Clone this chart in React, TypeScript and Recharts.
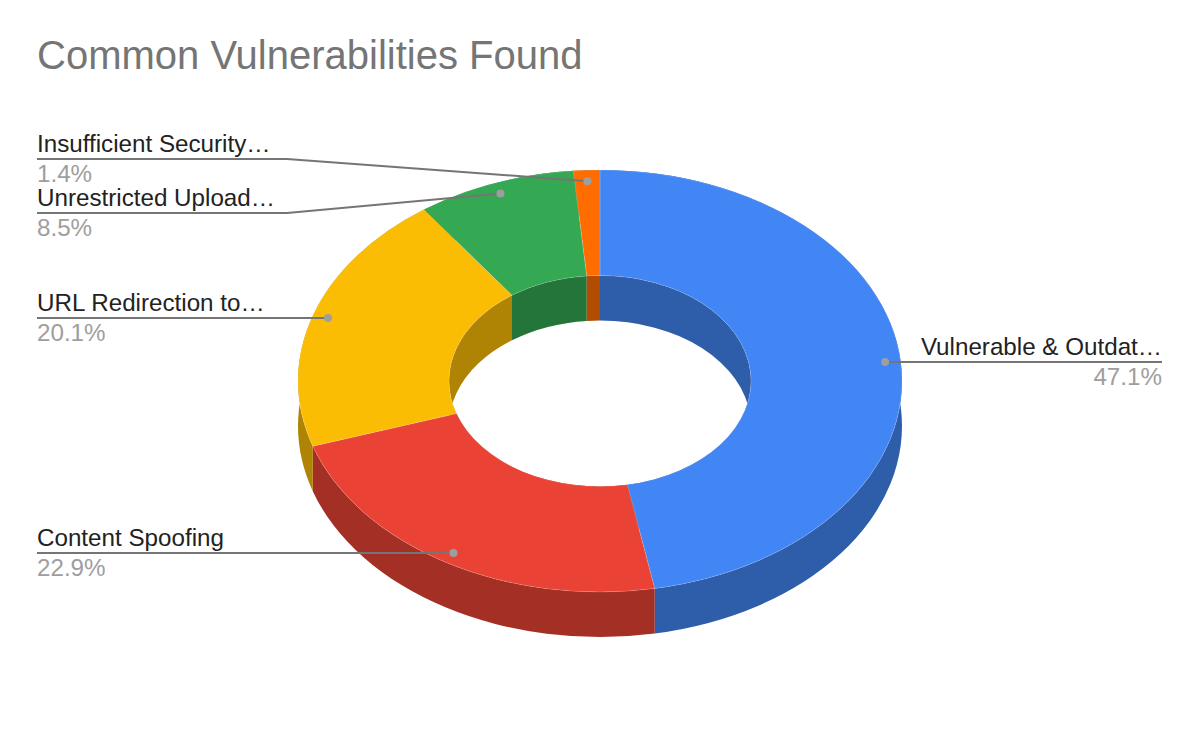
import React from "react";
import { PieChart, Pie, Cell } from "recharts";

const categories = [
  "Vulnerable & Outdat…",
  "Content Spoofing",
  "URL Redirection to…",
  "Unrestricted Upload…",
  "Insufficient Security…",
];
const shares = [47.1, 22.9, 20.1, 8.5, 1.4];
const topColors = ["#4285F4", "#EA4335", "#FBBC04", "#34A853", "#FF6D01"];
const wallColors = ["#2E5DAA", "#A32F25", "#AF8303", "#24753A", "#B24C01"];

const data = categories.map((name, i) => ({ name, value: shares[i] }));

// label placement, same order as categories: y of the leader line, where the text ends
const lineY = [362, 553, 318, 213, 159];
const elbowX = [null, null, null, 287, 287];
const LEFT_X = 37;
const RIGHT_X = 1162;

const FONT = "'Liberation Sans', Arial, sans-serif";
const SQUASH = 211 / 302; // the tilt of the ring
const DEPTH = 45;
const RAD = Math.PI / 180;

const pt = (cx: number, cy: number, r: number, deg: number) => [
  cx + r * Math.cos(deg * RAD),
  cy - r * SQUASH * Math.sin(deg * RAD),
];

const arc = (cx: number, cy: number, r: number, from: number, to: number) => {
  const [x, y] = pt(cx, cy, r, to);
  const large = Math.abs(to - from) > 180 ? 1 : 0;
  const sweep = to < from ? 1 : 0;
  return `A${r},${r * SQUASH} 0 ${large} ${sweep} ${x},${y}`;
};

const TopFace = (props: any) => {
  const { cx, cy, innerRadius, outerRadius, startAngle, endAngle, fill } = props;
  const [ox, oy] = pt(cx, cy, outerRadius, startAngle);
  const [ix, iy] = pt(cx, cy, innerRadius, endAngle);
  const d = `M${ox},${oy}${arc(cx, cy, outerRadius, startAngle, endAngle)}L${ix},${iy}${arc(
    cx,
    cy,
    innerRadius,
    endAngle,
    startAngle,
  )}Z`;
  return <path d={d} fill={fill} stroke="#fff" strokeOpacity={0.25} strokeWidth={0.6} />;
};

// band swept downward from one edge of the ring; the top face hides the part that should not show
const wall = (props: any, r: number) => {
  const { cx, cy, startAngle, endAngle, fill } = props;
  const [ax, ay] = pt(cx, cy, r, startAngle);
  const [bx, by] = pt(cx, cy + DEPTH, r, endAngle);
  const d = `M${ax},${ay}${arc(cx, cy, r, startAngle, endAngle)}L${bx},${by}${arc(
    cx,
    cy + DEPTH,
    r,
    endAngle,
    startAngle,
  )}Z`;
  return <path d={d} fill={fill} stroke="none" />;
};

const OuterWall = (props: any) => wall(props, props.outerRadius);
const InnerWall = (props: any) => wall(props, props.innerRadius);

const SliceLabel = (props: any) => {
  const { cx, cy, outerRadius, midAngle, index, name, value } = props;
  const [dx, dy] = pt(cx, cy, outerRadius * 0.948, midAngle);
  const y = lineY[index];
  const onRight = dx > cx && index === 0;
  const endX = onRight ? RIGHT_X : LEFT_X;
  const elbow = elbowX[index];
  const points = elbow ? `${endX},${y} ${elbow},${y} ${dx},${dy}` : `${endX},${y} ${dx},${y}`;
  const anchor = onRight ? "end" : "start";
  return (
    <g>
      <polyline points={points} fill="none" stroke="#757575" strokeWidth={2} />
      <circle cx={dx} cy={elbow ? dy : y} r={4} fill="#9E9E9E" />
      <text x={endX} y={y - 7} textAnchor={anchor} fontFamily={FONT} fontSize={24.2} fill="#222222">
        {name}
      </text>
      <text x={endX} y={y + 23} textAnchor={anchor} fontFamily={FONT} fontSize={24.2} fill="#9E9E9E">
        {`${value}%`}
      </text>
    </g>
  );
};

const ring = {
  data,
  dataKey: "value",
  nameKey: "name",
  cx: 600,
  cy: 381,
  innerRadius: 151,
  outerRadius: 302,
  startAngle: 90,
  endAngle: -270,
  stroke: "none",
  isAnimationActive: false,
};

export default function App() {
  return (
    <div style={{ position: "absolute", left: 0, top: 0, width: 1200, height: 742, background: "#fff" }}>
      <PieChart width={1200} height={742} margin={{ top: 0, right: 0, bottom: 0, left: 0 }}>
        <text x={37} y={69} fontFamily={FONT} fontSize={40} fill="#757575">
          Common Vulnerabilities Found
        </text>
        <Pie {...ring} shape={OuterWall} label={false} labelLine={false}>
          {data.map((_, i) => (
            <Cell key={`outer-${i}`} fill={wallColors[i]} />
          ))}
        </Pie>
        <Pie {...ring} shape={InnerWall} label={false} labelLine={false}>
          {data.map((_, i) => (
            <Cell key={`inner-${i}`} fill={wallColors[i]} />
          ))}
        </Pie>
        <Pie {...ring} shape={TopFace} label={SliceLabel} labelLine={false}>
          {data.map((_, i) => (
            <Cell key={`top-${i}`} fill={topColors[i]} />
          ))}
        </Pie>
      </PieChart>
    </div>
  );
}
